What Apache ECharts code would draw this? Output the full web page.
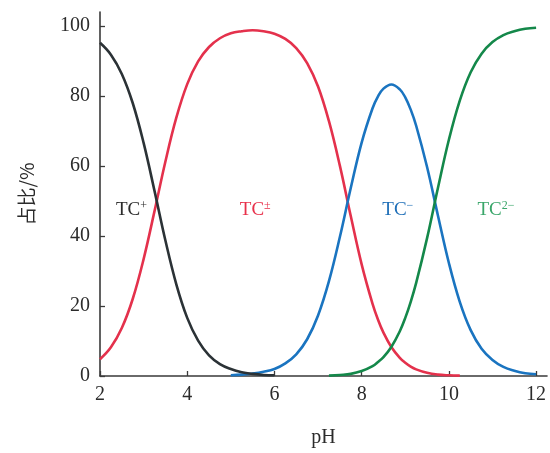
<!DOCTYPE html>
<html><head><meta charset="utf-8">
<script src="https://cdn.jsdelivr.net/npm/echarts@6/dist/echarts.min.js"></script>
<style>html,body{margin:0;padding:0;background:#fff}#c{width:550px;height:453px}</style>
</head><body><div id="c"></div>
<script>
const pH = [2,2.25,2.5,2.75,3,3.25,3.5,3.75,4,4.25,4.5,4.75,5,5.25,5.5,5.75,6,6.25,6.5,6.75,7,7.25,7.5,7.75,8,8.25,8.375,8.5,8.68,8.875,9,9.125,9.25,9.5,9.75,10,10.25,10.5,10.75,11,11.25,11.5,11.75,12];
const tcPlus = [95.2,91.8,86.3,78.0,66.6,52.9,38.7,26.2,16.6,10.1,5.9,3.4,2.0,1.1,0.6,0.3,0.2,null,null,null,null,null,null,null,null,null,null,null,null,null,null,null,null,null,null,null,null,null,null,null,null,null,null,null];
const tcZw = [4.8,8.2,13.7,22.0,33.4,47.1,61.3,73.8,83.4,89.9,94.0,96.5,97.9,98.5,98.8,98.5,97.8,96.3,93.7,89.4,82.7,72.8,60.1,45.7,31.9,20.6,16.1,12.4,8.3,5.2,3.8,2.7,1.9,0.9,0.4,0.2,0.1,null,null,null,null,null,null,null];
const tcMinus = [null,null,null,null,null,null,null,null,null,null,null,null,0.2,0.4,0.7,1.2,2.0,3.6,6.2,10.5,17.3,27.1,39.7,53.7,66.7,76.5,79.9,82.1,83.3,81.9,79.6,76.1,71.5,59.7,45.8,32.3,21.2,13.1,7.8,4.6,2.6,1.5,0.8,0.5];
const tc2Minus = [null,null,null,null,null,null,null,null,null,null,null,null,null,null,null,null,null,null,null,null,null,0.1,0.3,0.6,1.4,2.8,4.0,5.4,8.3,12.8,16.6,21.2,26.6,39.4,53.8,67.5,78.7,86.8,92.1,95.4,97.4,98.5,99.2,99.5];
const xTicks = [2,4,6,8,10,12];
const yTicks = [0,20,40,60,80,100];
const labelNames = [['TC','+'],['TC','±'],['TC','−'],['TC','2−']];
const labelPos = [[2.72,47.6],[5.56,47.6],[8.83,47.6],[11.08,47.6]];

const colors = ['#2b3236','#e4314c','#1a74c0','#14884a'];
const textColors = ['#2b2b2b','#e8304a','#1f6fb8','#3aa66a'];
const serif = '"Liberation Serif","DejaVu Serif",serif';

function pairs(arr){ return pH.map((x,i)=>[x,arr[i]]).filter(p=>p[1]!==null); }
const chart = echarts.init(document.getElementById('c'), null, {renderer:'canvas'});
const axisLine = {show:true,lineStyle:{color:'#3a3a3a',width:1.6}};
const axisTick = {show:true,inside:true,length:5,lineStyle:{color:'#3a3a3a',width:1.3}};
const axisLabel = {color:'#2b2b2b',fontFamily:serif,fontSize:20};
const option = {
  animation:false,
  grid:{left:100,right:3,top:12,bottom:77,containLabel:false},
  xAxis:{type:'value',min:2,max:12.25,
    axisLine:axisLine,
    axisTick:Object.assign({},axisTick,{customValues:xTicks}),
    axisLabel:Object.assign({},axisLabel,{customValues:xTicks,margin:9}),
    splitLine:{show:false},
    name:'pH',nameLocation:'middle',nameGap:52,
    nameTextStyle:{fontFamily:serif,fontSize:20,color:'#2b2b2b'}},
  yAxis:{type:'value',min:0,max:104,
    axisLine:axisLine,
    axisTick:Object.assign({},axisTick,{customValues:yTicks}),
    axisLabel:Object.assign({},axisLabel,{customValues:yTicks,margin:10}),
    splitLine:{show:false},
    name:'占比/%',nameLocation:'middle',nameGap:64,nameRotate:90,
    nameTextStyle:{fontFamily:'"Noto Sans CJK SC",'+serif,fontSize:19,color:'#2b2b2b'}},
  series:[tcPlus,tcZw,tcMinus,tc2Minus].map((arr,i)=>({
    type:'line',data:pairs(arr),smooth:0.4,showSymbol:false,symbol:'none',
    lineStyle:{color:colors[i],width:2.6},z:i===0?5:3
  }))
};
chart.setOption(option);
const graphics = labelPos.map((p,i)=>{
  const px = chart.convertToPixel({gridIndex:0},p);
  return {type:'text',x:px[0],y:px[1],z:100,
    style:{text:'{b|'+labelNames[i][0]+'}{s|'+labelNames[i][1]+'}',
      align:'center',verticalAlign:'middle',
      rich:{b:{fontFamily:serif,fontSize:19,fill:textColors[i],color:textColors[i],verticalAlign:'bottom'},
            s:{fontFamily:serif,fontSize:12,fill:textColors[i],color:textColors[i],verticalAlign:'top',padding:[0,0,8,0]}}}};
});
chart.setOption({graphic:graphics});
</script></body></html>
